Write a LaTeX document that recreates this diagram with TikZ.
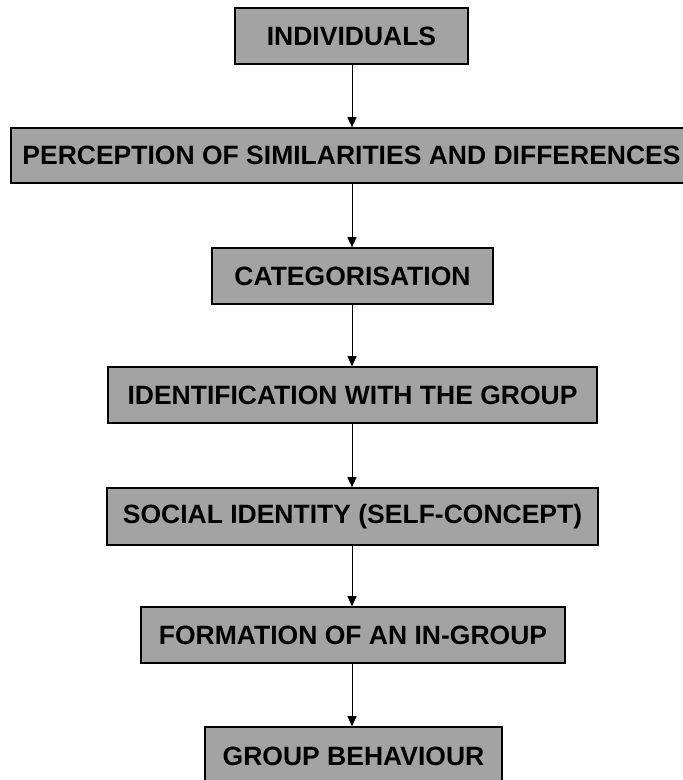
\documentclass[tikz,border=0pt]{standalone}
\usepackage{fontspec}
\setmainfont{Liberation Sans}
\usetikzlibrary{arrows.meta}
\begin{document}
\begin{tikzpicture}[x=1pt,y=1pt,
  stagebox/.style={draw=black, line width=1.6pt, fill=black!36, inner sep=0pt,
    font=\fontsize{26.5}{30}\selectfont\bfseries, text=black},
  flow/.style={draw=black, line width=0.9pt, -{Triangle[length=10pt,width=9pt]}}]
\clip (0,0) rectangle (683,-780);
\fill[white] (0,0) rectangle (683,-780);
\node[stagebox, minimum width=233pt, minimum height=56pt] (n1) at (351.5,-36) {INDIVIDUALS};
\node[stagebox, minimum width=681pt, minimum height=55pt] (n2) at (351.5,-155.5) {PERCEPTION OF SIMILARITIES AND DIFFERENCES};
\node[stagebox, minimum width=281pt, minimum height=56pt] (n3) at (352.5,-276) {CATEGORISATION};
\node[stagebox, minimum width=489pt, minimum height=56pt] (n4) at (352.5,-395) {IDENTIFICATION WITH THE GROUP};
\node[stagebox, minimum width=491pt, minimum height=57pt] (n5) at (352.5,-516.5) {SOCIAL IDENTITY (SELF-CONCEPT)};
\node[stagebox, minimum width=424pt, minimum height=56pt] (n6) at (353,-635) {FORMATION OF AN IN-GROUP};
\node[stagebox, minimum width=297pt, minimum height=58pt] (n7) at (353.5,-756) {GROUP BEHAVIOUR};
\draw[flow] (n1.south -| 352,0) -- (n2.north -| 352,0);
\draw[flow] (n2.south -| 352,0) -- (n3.north -| 352,0);
\draw[flow] (n3.south -| 352,0) -- (n4.north -| 352,0);
\draw[flow] (n4.south -| 352,0) -- (n5.north -| 352,0);
\draw[flow] (n5.south -| 352,0) -- (n6.north -| 352,0);
\draw[flow] (n6.south -| 352,0) -- (n7.north -| 352,0);
\end{tikzpicture}
\end{document}
